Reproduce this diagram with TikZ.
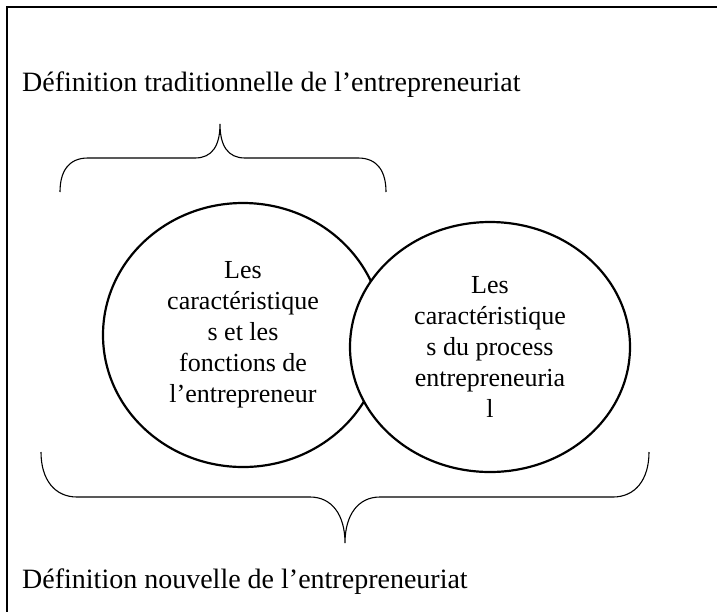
\documentclass[tikz,border=0pt]{standalone}
\usepackage{fontspec}
\setmainfont{Liberation Serif}
\usetikzlibrary{shapes.geometric}
\tikzset{
  cadre/.style={line width=2.4pt},
  bulle/.style={ellipse, draw, line width=2.2pt, fill=white, align=center,
    inner sep=0pt, font=\fontsize{26}{31}\selectfont},
  titre/.style={anchor=base west, inner sep=0pt, font=\fontsize{28}{34}\selectfont},
  accolade/.style={line width=1.1pt}
}

\begin{document}
\begin{tikzpicture}[x=1pt,y=-1pt]
    \useasboundingbox (0,0) rectangle (717,611);
    \draw[cadre] (7,640) |- (740,7);
    \node[titre] (ancienne) at (22,91) {Définition traditionnelle de l’entrepreneuriat};
    \node[titre] (nouvelle) at (22,588) {Définition nouvelle de l’entrepreneuriat};
    \node[bulle, minimum width=280pt, minimum height=264pt] (entrepreneur) at (243,335)
      {Les\\caractéristique\\s et les\\fonctions de\\l’entrepreneur};
    \node[bulle, minimum width=280pt, minimum height=250pt] (processus) at (490,347)
      {Les\\caractéristique\\s du process\\entrepreneuria\\l};
    % accolade du haut
    \draw[accolade] (60,192) .. controls (60,172) and (68,158) .. (88,158) -- (195,158)
      .. controls (212,158) and (220,146) .. (220,124)
      .. controls (220,146) and (228,158) .. (245,158) -- (358,158)
      .. controls (378,158) and (386,172) .. (386,192);
    % accolade du bas
    \draw[accolade] (41,452) .. controls (41,480) and (55,497) .. (77,497) -- (310,497)
      .. controls (332,497) and (345,515) .. (345,543)
      .. controls (345,515) and (358,497) .. (380,497) -- (613,497)
      .. controls (635,497) and (649,480) .. (649,452);
    \end{tikzpicture}
\end{document}
